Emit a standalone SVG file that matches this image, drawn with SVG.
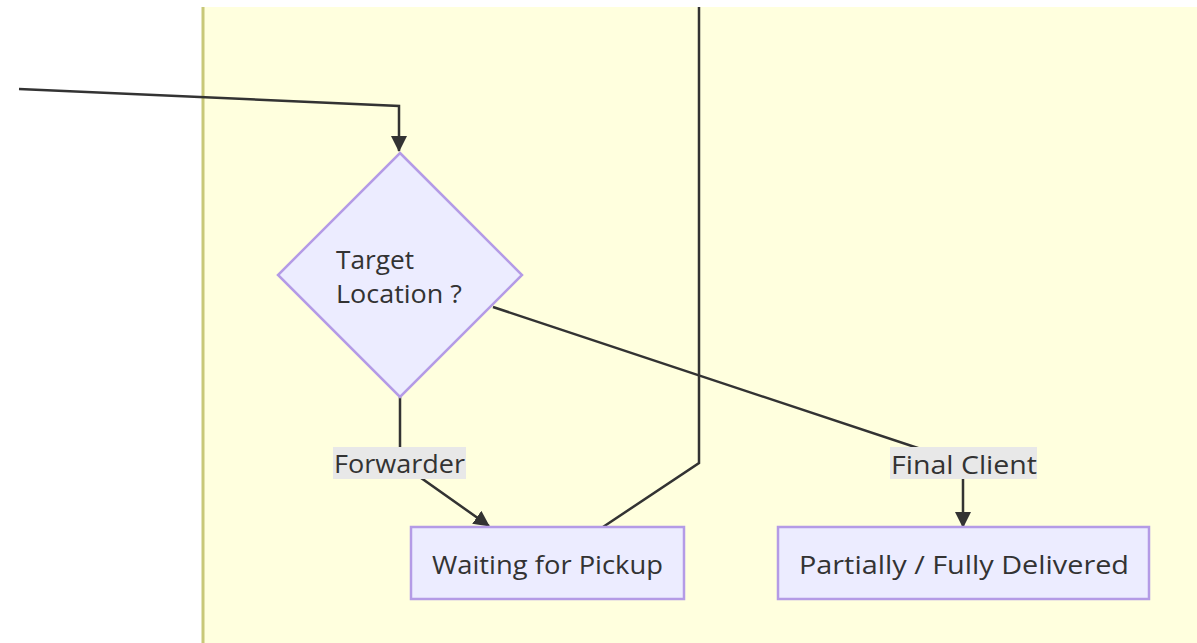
<svg xmlns="http://www.w3.org/2000/svg" width="1197" height="643" viewBox="0 0 1197 643">
  <defs>
    <marker id="arrow" viewBox="0 0 16 16" refX="15" refY="8" markerWidth="16" markerHeight="16" markerUnits="userSpaceOnUse" orient="auto">
      <path d="M0,0 L16,8 L0,16 z" fill="#333333"/>
    </marker>
    <style>
      .cluster { fill: #ffffde; }
      .cluster-edge { stroke: #c8c878; stroke-width: 3; fill: none; }
      .node-shape { fill: #ececff; stroke: #b49be6; stroke-width: 2.5; }
      .edge { fill: none; stroke: #333333; stroke-width: 2.5; stroke-linejoin: miter; }
      .label-bg { fill: #e8e8e8; }
      text { font-family: "Trebuchet MS", "Open Sans", "DejaVu Sans", sans-serif; font-size: 25px; fill: #333333; }
    </style>
  </defs>

  <rect width="1197" height="643" fill="#ffffff"/>

  <!-- subgraph background -->
  <g id="cluster">
    <rect class="cluster" x="203" y="7" width="1000" height="640"/>
    <line class="cluster-edge" x1="203" y1="7" x2="203" y2="643"/>
  </g>

  <!-- connectors -->
  <g id="edges">
    <path class="edge" d="M19,89 L399,106 L399,151" marker-end="url(#arrow)"/>
    <path class="edge" d="M400,397 L400,463 L489,526" marker-end="url(#arrow)"/>
    <path class="edge" d="M493,307 L963,463 L963,527" marker-end="url(#arrow)"/>
    <path class="edge" d="M699,7 L699,463 L603,527"/>
  </g>

  <!-- edge labels -->
  <g id="label-forwarder">
    <rect class="label-bg" x="333" y="447" width="133" height="32"/>
    <text x="334" y="473" textLength="131" lengthAdjust="spacingAndGlyphs">Forwarder</text>
  </g>
  <g id="label-final-client">
    <rect class="label-bg" x="890" y="447" width="147" height="32"/>
    <text x="891" y="474" textLength="146" lengthAdjust="spacingAndGlyphs">Final Client</text>
  </g>

  <!-- nodes -->
  <g id="node-target-location">
    <polygon class="node-shape" points="400,153 522,275 400,397 278,275"/>
    <text x="336" y="269" textLength="78" lengthAdjust="spacingAndGlyphs">Target</text>
    <text x="336" y="303" textLength="126" lengthAdjust="spacingAndGlyphs">Location ?</text>
  </g>
  <g id="node-waiting-for-pickup">
    <rect class="node-shape" x="411" y="527" width="273" height="72"/>
    <text x="432" y="574" textLength="231" lengthAdjust="spacingAndGlyphs">Waiting for Pickup</text>
  </g>
  <g id="node-delivered">
    <rect class="node-shape" x="778" y="527" width="371" height="72"/>
    <text x="799" y="574" textLength="330" lengthAdjust="spacingAndGlyphs">Partially / Fully Delivered</text>
  </g>
</svg>
